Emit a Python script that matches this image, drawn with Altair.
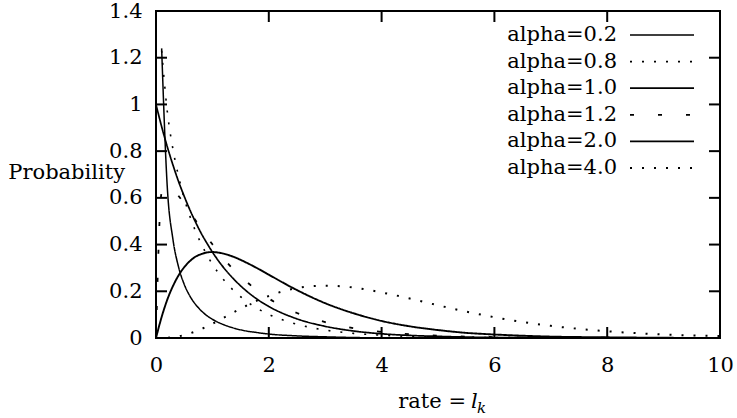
import altair as alt
import pandas as pd

# Gamma densities for several shape parameters, sampled along the rate axis
rate = [0, 0.1, 0.2, 0.3, 0.4, 0.5, 0.6, 0.7, 0.8, 0.9, 1.0, 1.2, 1.4, 1.6, 1.8,
        2.0, 2.5, 3.0, 3.5, 4.0, 4.5, 5.0, 5.5, 6.0, 7.0, 8.0, 9.0, 10.0]

alpha_02 = [None, 1.24, 0.646, 0.423, 0.304, 0.230, 0.180, 0.144, 0.117, 0.096, 0.080,
            0.057, 0.041, 0.030, 0.023, 0.017, 0.009, 0.005, 0.002, 0.001, 0.001,
            0.0, 0.0, 0.0, 0.0, 0.0, 0.0, 0.0]
alpha_08 = [None, 1.23, 0.970, 0.809, 0.692, 0.598, 0.522, 0.458, 0.404, 0.357, 0.316,
            0.249, 0.198, 0.158, 0.126, 0.101, 0.059, 0.034, 0.020, 0.012, 0.007,
            0.004, 0.003, 0.002, 0.001, 0.0, 0.0, 0.0]
alpha_10 = [1.0, 0.905, 0.819, 0.741, 0.670, 0.607, 0.549, 0.497, 0.449, 0.407, 0.368,
            0.301, 0.247, 0.202, 0.165, 0.135, 0.082, 0.050, 0.030, 0.018, 0.011,
            0.007, 0.004, 0.002, 0.001, 0.0, 0.0, 0.0]
alpha_12 = [0.0, 0.622, 0.646, 0.634, 0.608, 0.575, 0.540, 0.504, 0.468, 0.434, 0.401,
            0.340, 0.287, 0.242, 0.202, 0.169, 0.107, 0.068, 0.042, 0.026, 0.016,
            0.010, 0.006, 0.004, 0.002, 0.001, 0.0, 0.0]
alpha_20 = [0.0, 0.090, 0.164, 0.222, 0.268, 0.303, 0.329, 0.348, 0.359, 0.366, 0.368,
            0.361, 0.345, 0.323, 0.298, 0.271, 0.205, 0.149, 0.106, 0.073, 0.050,
            0.034, 0.022, 0.015, 0.006, 0.003, 0.001, 0.0]
alpha_40 = [0.0, 0.0, 0.001, 0.003, 0.007, 0.013, 0.020, 0.028, 0.038, 0.049, 0.061,
            0.087, 0.113, 0.138, 0.161, 0.180, 0.214, 0.224, 0.216, 0.195, 0.169,
            0.140, 0.113, 0.089, 0.052, 0.029, 0.015, 0.008]

series_names = ["alpha=0.2", "alpha=0.8", "alpha=1.0", "alpha=1.2", "alpha=2.0", "alpha=4.0"]
series_values = [alpha_02, alpha_08, alpha_10, alpha_12, alpha_20, alpha_40]

x_ticks = [0, 2, 4, 6, 8, 10]
y_ticks = [0, 0.2, 0.4, 0.6, 0.8, 1.0, 1.2, 1.4]

# line styles per series
dashes = [[1, 0], [2, 10], [1, 0], [4, 24], [1, 0], [2, 10]]
widths = [1.5, 2, 3.4, 4, 1.5, 2]

FONT = "DejaVu Serif"
FS = 21
W, H = 564, 327

rows = []
for name, vals in zip(series_names, series_values):
    for x, y in zip(rate, vals):
        if y is not None:
            rows.append({"series": name, "rate": x, "prob": y})
curves = pd.DataFrame(rows)

dash_enc = alt.StrokeDash("series:N", scale=alt.Scale(domain=series_names, range=dashes), legend=None)
width_enc = alt.StrokeWidth("series:N", scale=alt.Scale(domain=series_names, range=widths), legend=None)

x_scale = alt.Scale(domain=[0, 10], nice=False, zero=False)
y_scale = alt.Scale(domain=[0, 1.4], nice=False)

lines = alt.Chart(curves).mark_line(color="black", interpolate="monotone", strokeCap="butt").encode(
    x=alt.X("rate:Q", scale=x_scale,
            axis=alt.Axis(values=x_ticks, format="d", ticks=False, tickSize=0, domain=False,
                          grid=False, labelFlush=False, labelFont=FONT, labelFontSize=FS,
                          labelColor="black", labelPadding=16, title=None)),
    y=alt.Y("prob:Q", scale=y_scale,
            axis=alt.Axis(values=y_ticks, format=".1~f", ticks=False, tickSize=0, domain=False,
                          grid=False, labelFlush=False, labelFont=FONT, labelFontSize=FS,
                          labelColor="black", labelPadding=14, title=None)),
    detail="series:N",
    strokeDash=dash_enc,
    strokeWidth=width_enc,
)

# inward tick marks on all four sides
xt = pd.DataFrame({"t": x_ticks})
yt = pd.DataFrame({"t": y_ticks})
tick_len = 11
bottom_ticks = alt.Chart(xt).mark_rule(color="black", strokeWidth=2).encode(
    x=alt.X("t:Q", scale=x_scale), y=alt.value(H), y2=alt.value(H - tick_len))
top_ticks = alt.Chart(xt).mark_rule(color="black", strokeWidth=2).encode(
    x=alt.X("t:Q", scale=x_scale), y=alt.value(0), y2=alt.value(tick_len))
left_ticks = alt.Chart(yt).mark_rule(color="black", strokeWidth=2).encode(
    y=alt.Y("t:Q", scale=y_scale), x=alt.value(0), x2=alt.value(tick_len))
right_ticks = alt.Chart(yt).mark_rule(color="black", strokeWidth=2).encode(
    y=alt.Y("t:Q", scale=y_scale), x=alt.value(W), x2=alt.value(W - tick_len))

# key in the upper right corner
key = pd.DataFrame({"series": series_names})
key["row_y"] = [24 + 26.6 * i for i in range(len(series_names))]
key_text = alt.Chart(key).mark_text(font=FONT, fontSize=FS, align="right", baseline="middle",
                                    color="black").encode(
    x=alt.value(461), y=alt.Y("row_y:Q", scale=None), text="series:N")
key_lines = alt.Chart(key).mark_rule(color="black", strokeCap="butt").encode(
    x=alt.value(474), x2=alt.value(538), y=alt.Y("row_y:Q", scale=None),
    strokeDash=dash_enc, strokeWidth=width_enc)

# axis titles
ylab = alt.Chart(pd.DataFrame({"t": ["Probability"]})).mark_text(
    font=FONT, fontSize=FS, align="right", baseline="middle", color="black").encode(
    x=alt.value(-31), y=alt.value(162), text="t:N")
xlab_main = alt.Chart(pd.DataFrame({"t": ["rate ="]})).mark_text(
    font=FONT, fontSize=FS, align="right", baseline="alphabetic", color="black").encode(
    x=alt.value(310), y=alt.value(397), text="t:N")
xlab_l = alt.Chart(pd.DataFrame({"t": ["l"]})).mark_text(
    font=FONT, fontSize=FS, fontStyle="italic", align="left", baseline="alphabetic",
    color="black").encode(x=alt.value(315), y=alt.value(397), text="t:N")
xlab_k = alt.Chart(pd.DataFrame({"t": ["k"]})).mark_text(
    font=FONT, fontSize=15, fontStyle="italic", align="left", baseline="alphabetic",
    color="black").encode(x=alt.value(321), y=alt.value(402), text="t:N")

chart = alt.layer(
    lines, bottom_ticks, top_ticks, left_ticks, right_ticks,
    key_lines, key_text, ylab, xlab_main, xlab_l, xlab_k,
).properties(
    width=W, height=H,
    autosize=alt.AutoSizeParams(type="none"),
    padding={"left": 156, "top": 11, "right": 17, "bottom": 80},
    background="white",
).configure_view(
    stroke="black", strokeWidth=2,
)

chart.save("out.html", embed_options={"renderer": "svg", "actions": False})
